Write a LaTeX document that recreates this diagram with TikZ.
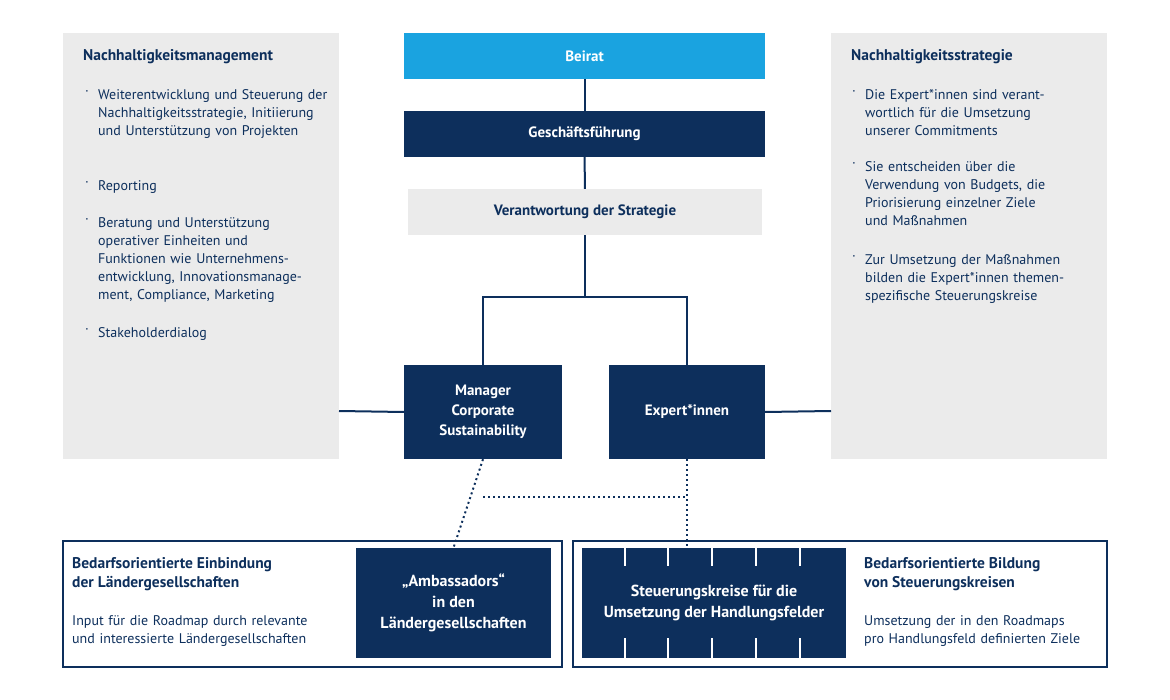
\documentclass[tikz,border=0pt]{standalone}
\usepackage{fontspec}
\setmainfont{PT Sans}
\begin{document}
\definecolor{navy}{HTML}{0D2F5C}
\definecolor{sky}{HTML}{1AA3E0}
\definecolor{lgray}{HTML}{EBEBEB}
\begin{tikzpicture}[x=1pt,y=-1pt,
  dark/.style={fill=navy,text=white,font=\fontsize{15}{18}\selectfont\bfseries,align=center,inner sep=0},
  gbox/.style={fill=lgray,draw=none},
  ln/.style={navy,line width=2pt},
  dl/.style={navy,line width=2pt,dash pattern=on 2pt off 3pt},
  title/.style={anchor=west,text=navy,font=\fontsize{15.5}{19}\selectfont\bfseries,align=left,inner sep=0},
  body/.style={anchor=north west,text=navy,font=\fontsize{14}{18}\selectfont,align=left,inner sep=0,text width=#1},
  bul/.style={anchor=north west,text=navy,font=\fontsize{14}{18}\selectfont,inner sep=0}]
\useasboundingbox (0,0) rectangle (1170,700);
% gray side boxes
\fill[lgray] (63,33) rectangle (339,459);
\fill[lgray] (831,33) rectangle (1107,459);
% top boxes
\node[dark,fill=sky,minimum width=361,minimum height=46] (beirat) at (584.5,56) {Beirat};
\node[dark,minimum width=361,minimum height=46] (gf) at (584.5,134) {Geschäftsführung};
\node[dark,fill=lgray,text=navy,minimum width=354,minimum height=46] (vs) at (585,212) {Verantwortung der Strategie};
\node[dark,minimum width=158,minimum height=94,font=\fontsize{15}{20}\selectfont\bfseries] (mcs) at (483,412) {Manager\\Corporate\\Sustainability};
\node[dark,minimum width=156,minimum height=94] (exp) at (687,412) {Expert*innen};
\coordinate (j) at (585,297);
\draw[ln] (beirat) -- (gf);
\draw[ln] (gf) -- (vs);
\draw[ln] (vs.south) -- (j);
\draw[ln] (mcs.north) -- ++(0,-68) -| (exp.north);
\coordinate (lb) at (339,411);
\coordinate (rb) at (831,411);
\draw[ln] (lb) -- (mcs.west);
\draw[ln] (exp.east) -- (rb);
% bottom
\draw[navy,line width=1.5pt] (63,541) rectangle (562,667);
\draw[navy,line width=1.5pt] (573,541) rectangle (1107,667);
\node[dark,minimum width=195,minimum height=110,font=\fontsize{16}{21}\selectfont\bfseries] (amb) at (453.5,603) {„Ambassadors“\\in den\\Ländergesellschaften};
\node[dark,minimum width=264,minimum height=110,font=\fontsize{16}{21}\selectfont\bfseries] (stk) at (714,603) {Steuerungskreise für die\\Umsetzung der Handlungsfelder};
\foreach \x in {625,668,712,756,800}{
  \draw[white,line width=1.5pt] (\x,548) -- (\x,566);
  \draw[white,line width=1.5pt] (\x,638) -- (\x,658);}
\draw[dl] (mcs.south) -- (amb.north);
\draw[dl] (exp.south) -- (687,548);
\draw[dl] (483,497) -- (687,497);
% left text
\node[title] at (83,57) {Nachhaltigkeitsmanagement};
\foreach \y in {90,181,218,328} \node[bul] at (85,\y) {·};
\node[body=240] at (98,89) {Weiterentwicklung und Steuerung der Nachhaltigkeitsstrategie, Initiierung und Unterstützung von Projekten};
\node[body=240] at (98,180) {Reporting};
\node[body=240] at (98,217) {Beratung und Unterstützung\\operativer Einheiten und\\Funktionen wie Unternehmens-\\entwicklung, Innovationsmanage-\\ment, Compliance, Marketing};
\node[body=240] at (98,327) {Stakeholderdialog};
% right text
\node[title] at (851,57) {Nachhaltigkeitsstrategie};
\foreach \y in {90,162,255} \node[bul] at (852,\y) {·};
\node[body=240] at (865,89) {Die Expert*innen sind verant-\\wortlich für die Umsetzung\\unserer Commitments};
\node[body=240] at (865,161) {Sie entscheiden über die\\Verwendung von Budgets, die\\Priorisierung einzelner Ziele\\und Maßnahmen};
\node[body=240] at (865,254) {Zur Umsetzung der Maßnahmen\\bilden die Expert*innen themen-\\spezifische Steuerungskreise};
% bottom texts
\node[title,anchor=north west] at (72,557) {Bedarfsorientierte Einbindung\\der Ländergesellschaften};
\node[body=280] at (72,615) {Input für die Roadmap durch relevante\\und interessierte Ländergesellschaften};
\node[title,anchor=north west] at (864,557) {Bedarfsorientierte Bildung\\von Steuerungskreisen};
\node[body=240] at (864,615) {Umsetzung der in den Roadmaps\\pro Handlungsfeld definierten Ziele};
\end{tikzpicture}
\end{document}
